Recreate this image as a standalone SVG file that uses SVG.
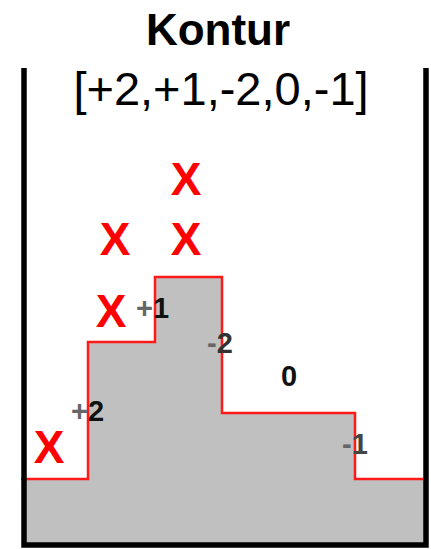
<svg xmlns="http://www.w3.org/2000/svg" width="431" height="549" viewBox="0 0 431 549">
<style>
.title{font-family:"Liberation Sans",Arial,sans-serif;font-weight:bold;font-size:44px;fill:#000;text-anchor:middle}
.seq{font-family:"Liberation Sans",Arial,sans-serif;font-size:47px;fill:#000;text-anchor:middle}
.x{font-family:"Liberation Sans",Arial,sans-serif;font-weight:bold;font-size:46px;fill:#ff0000;text-anchor:middle}
.lbl{font-family:"Liberation Sans",Arial,sans-serif;font-weight:bold;font-size:29px;fill:#111}
.sg{fill:#666}
</style>
<rect width="431" height="549" fill="#fff"/>
<text class="title" x="218" y="45">Kontur</text>
<text class="seq" x="221" y="105">[+2,+1,-2,0,-1]</text>
<g id="skyline">
<path d="M23,479 H88 V342 H155 V277 H222 V413 H355 V479 H426 V545 H23 Z" fill="#c0c0c0"/>
<path d="M21,479 H88 V342 H155 V277 H222 V413 H355 V479 H423" fill="none" stroke="#ff1a1a" stroke-width="2.5"/>
</g>
<g id="container">
<path d="M24,68 V545 H426 V68" fill="none" stroke="#000" stroke-width="5.5"/>
</g>
<g id="labels">
<text class="lbl" x="71" y="421"><tspan class="sg">+</tspan>2</text>
<text class="lbl" x="136" y="318"><tspan class="sg">+</tspan>1</text>
<text class="lbl" x="207" y="353"><tspan class="sg">-</tspan><tspan fill="#333">2</tspan></text>
<text class="lbl" x="281" y="386" fill="#444">0</text>
<text class="lbl" x="342" y="454"><tspan class="sg">-</tspan><tspan fill="#444">1</tspan></text>
</g>
<g id="marks">
<text class="x" x="49" y="463">X</text>
<text class="x" x="111" y="327">X</text>
<text class="x" x="115" y="255">X</text>
<text class="x" x="186" y="255">X</text>
<text class="x" x="186" y="195">X</text>
</g>
</svg>
